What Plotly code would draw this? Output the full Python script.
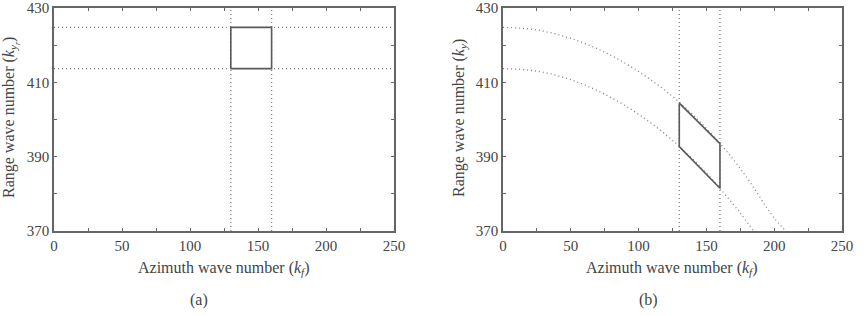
import plotly.graph_objects as go

# Panel (a): band limits
kf_band = [130, 160]
ky_band = [413.7, 424.8]

# Panel (b): curves
curve_kf_upper = [0, 25, 50, 75, 100, 125, 150, 175, 200, 208.5]
curve_ky_upper = [424.8, 424.1, 421.8, 418.1, 412.9, 406.2, 397.6, 386.8, 373.5, 370.0]
curve_kf_lower = [0, 25, 50, 75, 100, 125, 150, 175, 184.8]
curve_ky_lower = [413.7, 413.0, 410.7, 406.8, 401.4, 394.4, 385.6, 374.8, 370.0]
para_kf = [130, 160, 160, 130, 130]
para_ky = [404.4, 393.5, 381.5, 392.7, 404.4]

x_range = [0, 250]
y_range = [370, 430]

DOT = dict(color="#808080", width=1.3, dash="1px,3px")
SOLID = dict(color="#5a5a5a", width=1.6)
FONT = "Liberation Serif, Times New Roman, serif"
TXT = "#444"

W, H = 865, 316
fig = go.Figure()

# Panel a
for ky in ky_band:
    fig.add_trace(go.Scatter(x=x_range, y=[ky, ky], mode="lines", line=DOT, xaxis="x", yaxis="y"))
for kf in kf_band:
    fig.add_trace(go.Scatter(x=[kf, kf], y=y_range, mode="lines", line=DOT, xaxis="x", yaxis="y"))
fig.add_trace(go.Scatter(x=[kf_band[0], kf_band[1], kf_band[1], kf_band[0], kf_band[0]],
                         y=[ky_band[0], ky_band[0], ky_band[1], ky_band[1], ky_band[0]],
                         mode="lines", line=SOLID, xaxis="x", yaxis="y"))

# Panel b
fig.add_trace(go.Scatter(x=curve_kf_upper, y=curve_ky_upper, mode="lines", line=dict(DOT, shape="spline"), xaxis="x2", yaxis="y2"))
fig.add_trace(go.Scatter(x=curve_kf_lower, y=curve_ky_lower, mode="lines", line=dict(DOT, shape="spline"), xaxis="x2", yaxis="y2"))
for kf in kf_band:
    fig.add_trace(go.Scatter(x=[kf, kf], y=y_range, mode="lines", line=DOT, xaxis="x2", yaxis="y2"))
fig.add_trace(go.Scatter(x=para_kf, y=para_ky, mode="lines", line=SOLID, xaxis="x2", yaxis="y2"))

def xax(domain, anchor):
    return dict(domain=domain, anchor=anchor, range=x_range, tickvals=[0, 50, 100, 150, 200, 250],
                ticks="inside", ticklen=3, tickcolor="#666", showline=True, linecolor="#666", linewidth=1.5,
                mirror="ticks", showgrid=False, zeroline=False, automargin=False, ticklabeloverflow="allow",
                minor=dict(dtick=25, tick0=0, ticks="inside", ticklen=3, tickcolor="#666"),
                tickfont=dict(family=FONT, size=15, color=TXT))

def yax(domain, anchor):
    return dict(domain=domain, anchor=anchor, range=y_range, tickvals=[370, 390, 410, 430],
                ticks="inside", ticklen=3, tickcolor="#666", showline=True, linecolor="#666", linewidth=1.5,
                mirror="ticks", showgrid=False, zeroline=False, automargin=False, ticklabeloverflow="allow",
                minor=dict(dtick=10, tick0=370, ticks="inside", ticklen=3, tickcolor="#666"),
                tickfont=dict(family=FONT, size=15, color=TXT))

dom_a = [54 / W, 394 / W]
dom_b = [503 / W, 842 / W]
dom_y = [1 - 231 / H, 1 - 8 / H]

def ann(text, xpx, ypx, angle=0, size=16):
    return dict(text=text, x=xpx / W, y=1 - ypx / H, xref="paper", yref="paper", showarrow=False,
                textangle=angle, xanchor="center", yanchor="middle",
                font=dict(family=FONT, size=size, color=TXT))

fig.update_layout(
    width=W, height=H, margin=dict(l=0, r=0, t=0, b=0, autoexpand=False),
    paper_bgcolor="white", plot_bgcolor="white", showlegend=False,
    xaxis=xax(dom_a, "y"),
    yaxis=yax(dom_y, "x"),
    xaxis2=xax(dom_b, "y2"),
    yaxis2=yax(dom_y, "x2"),
    annotations=[
        ann("Azimuth wave number (<i>k<sub>f</sub></i>)", 224, 268),
        ann("Azimuth wave number (<i>k<sub>f</sub></i>)", 672, 268),
        ann("Range wave number (<i>k<sub>y<sub>r</sub></sub></i>)", 11, 118, -90),
        ann("Range wave number (<i>k<sub>y</sub></i>)", 459, 118, -90),
        ann("(a)", 199, 300),
        ann("(b)", 648, 300),
    ],
)

fig.write_html("out.html")
